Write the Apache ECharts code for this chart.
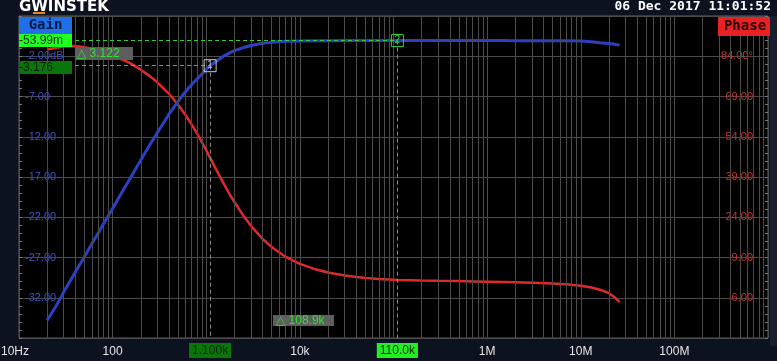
<!DOCTYPE html>
<html><head><meta charset="utf-8">
<script src="https://cdn.jsdelivr.net/npm/echarts@6/dist/echarts.min.js"></script>
<style>html,body{margin:0;padding:0;background:#0d1220;}#c{width:777px;height:361px;}</style>
</head><body><div id="c"></div>
<script>
// ---- data ----
const freqHz = [20,25,30,40,50,60,70,80,100,130,150,200,250,300,400,500,600,700,800,900,1000,1100,1300,1500,1800,2000,2500,3000,4000,5000,7000,10000,15000,20000,30000,50000,70000,100000,110000,150000,200000,300000,500000,700000,1e6,1.5e6,2e6,3e6,5e6,7e6,1e7,1.3e7,1.6e7,2e7,2.3e7,2.6e7];
const gainDb = [-34.8,-33.0,-31.3,-28.8,-26.9,-25.3,-24.0,-22.8,-20.9,-18.6,-17.4,-14.9,-13.0,-11.5,-9.2,-7.6,-6.4,-5.5,-4.8,-4.2,-3.6,-3.18,-2.55,-2.05,-1.55,-1.30,-0.92,-0.67,-0.40,-0.27,-0.15,-0.10,-0.07,-0.06,-0.055,-0.05,-0.05,-0.05,-0.054,-0.05,-0.05,-0.05,-0.05,-0.05,-0.05,-0.05,-0.06,-0.06,-0.08,-0.09,-0.12,-0.2,-0.32,-0.42,-0.52,-0.62];
const phaseDeg = [86.5,87.2,87.6,87.8,87.4,86.8,86.2,85.5,84.3,82.6,81.6,79.0,76.6,74.3,70.0,65.9,62.1,58.5,55.2,51.9,49.0,46.1,41.3,37.2,32.2,29.7,24.5,20.8,15.9,12.9,9.3,6.6,4.5,3.4,2.3,1.4,1.0,0.75,0.6,0.5,0.4,0.3,0.2,0.1,0.0,-0.1,-0.2,-0.4,-0.7,-1.0,-1.5,-2.2,-3.0,-4.3,-5.8,-7.6];
const xTickLabels = {10:'10Hz',100:'100',10000:'10k',1000000:'1M',10000000:'10M',100000000:'100M'};
const gainRange = [-37, 3, 5];
const phaseRange = [-21, 99, 15];
const markerFreq = [1100, 110000];
const markerGain = [-3.176, -0.05399];
const markerFreqText = ['1.100k', '110.0k'];
const markerGainText = ['-3.176', '-53.99m'];
const deltaGainText = '\u25B3 3.122';
const deltaFreqText = '\u25B3 108.9k';
const dateText = '06 Dec 2017 11:01:52';

// minor grid values (2..9 per decade)
const minorGrid = [];
for (let d = 1; d <= 8; d++) for (let k = 2; k <= 9; k++) minorGrid.push(k * Math.pow(10, d));

const FONT = "'Liberation Sans Narrow','Liberation Sans','DejaVu Sans',sans-serif";
const GRID_COLOR = '#4b4b4b';
const chart = echarts.init(document.getElementById('c'), null, {renderer: 'canvas'});

const gainData = freqHz.map((f, i) => [f, gainDb[i]]);
const phaseData = freqHz.map((f, i) => [f, phaseDeg[i]]);

const mColors = ['#c8c8c8', '#33d633'];
const mLabelBg = ['#0a760a', '#22ee22'];

const markerLines = [];
markerFreq.forEach((f, i) => {
  markerLines.push([
    {coord: [10, markerGain[i]], lineStyle: {color: i ? '#2fcf2f' : '#8a8a8a', type: [4, 3], width: 1}, label: {show: false}},
    {coord: [f, markerGain[i]]}
  ]);
  markerLines.push([
    {coord: [f, markerGain[i]], lineStyle: {color: i ? '#2fcf2f' : '#8a8a8a', type: [4, 3], width: 1},
     label: {show: true, position: 'end', distance: 5, formatter: markerFreqText[i], color: '#0a260a',
             backgroundColor: mLabelBg[i], padding: [2, 3, 1, 3], fontSize: 12, fontFamily: FONT}},
    {coord: [f, gainRange[0]]}
  ]);
});

const G = [
  {type: 'text', left: 19, top: 0, style: {text: 'GWINSTEK', fill: '#ffffff', font: 'bold 15px "DejaVu Sans"'}},
  {type: 'rect', shape: {x: 33, y: 12, width: 12, height: 2}, style: {fill: '#e8872a'}},
  {type: 'text', right: 6, top: 0, style: {text: dateText, fill: '#ffffff', font: 'bold 13px "DejaVu Sans Mono"'}},
  {type: 'rect', shape: {x: 19, y: 17, width: 53, height: 17}, style: {fill: '#1f6fe6'}},
  {type: 'text', x: 45.5, y: 25.5, style: {text: 'Gain', fill: '#0a1848', font: 'bold 14px "DejaVu Sans Mono"', align: 'center', verticalAlign: 'middle'}},
  {type: 'rect', shape: {x: 19, y: 34, width: 53, height: 13}, style: {fill: '#22ff22'}},
  {type: 'text', x: 19, y: 40.5, style: {text: markerGainText[1], fill: '#083008', font: '12px ' + FONT, verticalAlign: 'middle'}},
  {type: 'rect', shape: {x: 19, y: 61, width: 53, height: 13}, style: {fill: '#0a760a'}},
  {type: 'text', x: 19, y: 67.5, style: {text: markerGainText[0], fill: '#062006', font: '12px ' + FONT, verticalAlign: 'middle'}},
  {type: 'rect', shape: {x: 75, y: 47, width: 58, height: 13}, style: {fill: '#5e5e5e'}},
  {type: 'text', x: 77, y: 53.5, style: {text: deltaGainText, fill: '#35e035', font: '12px ' + FONT, verticalAlign: 'middle'}},
  {type: 'rect', shape: {x: 718, y: 17, width: 54, height: 19}, style: {fill: '#e62222'}},
  {type: 'text', x: 745, y: 26.5, style: {text: 'Phase', fill: '#2a0404', font: 'bold 14px "DejaVu Sans Mono"', align: 'center', verticalAlign: 'middle'}},
  {type: 'rect', shape: {x: 273, y: 315, width: 61, height: 11}, style: {fill: '#5e5e5e'}},
  {type: 'text', x: 276, y: 320.5, style: {text: deltaFreqText, fill: '#35e035', font: '12px ' + FONT, verticalAlign: 'middle'}},
  {type: 'rect', shape: {x: 770, y: 16, width: 7, height: 330}, style: {fill: '#1a1f30'}}
].map(e => Object.assign({z: 100, silent: true}, e));

const option = {
  backgroundColor: '#0d1220',
  animation: false,
  grid: {left: 19, top: 16, width: 749, height: 322, show: true, containLabel: false, outerBoundsMode: 'none',
         backgroundColor: '#000', borderColor: '#606060', borderWidth: 1},
  xAxis: {
    type: 'log', logBase: 10, min: 10, max: 1e9,
    axisLine: {show: false}, axisTick: {show: false},
    splitLine: {show: true, lineStyle: {color: GRID_COLOR, width: 1}},
    axisLabel: {color: '#e6e6e6', fontSize: 12, fontFamily: FONT, margin: 8,
      formatter: v => { const r = Math.round(v); return r === 10 ? '{l|10Hz}' : (xTickLabels[r] || ''); },
      rich: {l: {color: '#e6e6e6', fontSize: 12, fontFamily: FONT, padding: [0, 8, 0, 0]}}}
  },
  yAxis: [
    {type: 'value', min: gainRange[0], max: gainRange[1], interval: gainRange[2], position: 'left',
     axisLine: {show: false},
     axisTick: {show: true, inside: true, length: 3, lineStyle: {color: '#777'}},
     minorTick: {show: true, splitNumber: 5, length: 3, lineStyle: {color: '#777'}},
     splitLine: {show: true, lineStyle: {color: GRID_COLOR}},
     axisLabel: {inside: true, margin: 6, color: '#3d52c6', fontSize: 11, fontFamily: FONT,
       formatter: v => (v === gainRange[0] || v === gainRange[1]) ? '' : (v === -2 ? '-2.00dB' : v.toFixed(2))}},
    {type: 'value', min: phaseRange[0], max: phaseRange[1], interval: phaseRange[2], position: 'right',
     axisLine: {show: false},
     axisTick: {show: true, inside: true, length: 3, lineStyle: {color: '#777'}},
     minorTick: {show: true, splitNumber: 5, length: 3, lineStyle: {color: '#777'}},
     splitLine: {show: false},
     axisLabel: {inside: true, margin: 15, color: '#cf3030', fontSize: 11, fontFamily: FONT,
       formatter: v => (v === phaseRange[0] || v === phaseRange[1]) ? '' : (v === 84 ? '84.00\u00B0' : v.toFixed(2))}}
  ],
  series: [
    {type: 'line', data: [], z: 1, silent: true,
     markLine: {silent: true, symbol: ['none', 'none'], label: {show: false},
       lineStyle: {color: GRID_COLOR, type: 'solid', width: 1},
       data: minorGrid.map(v => ({xAxis: v}))}},
    {type: 'line', name: 'Phase', yAxisIndex: 1, data: phaseData, showSymbol: false, z: 3,
     lineStyle: {color: '#de2a2a', width: 2.5}},
    {type: 'line', name: 'Gain', yAxisIndex: 0, data: gainData, showSymbol: false, z: 4,
     lineStyle: {color: '#2c41c2', width: 3},
     markLine: {silent: true, symbol: ['none', 'none'], data: markerLines},
     markPoint: {silent: true, symbol: 'rect', symbolSize: 12,
       data: markerFreq.map((f, i) => ({coord: [f, markerGain[i]],
         itemStyle: {color: 'rgba(0,0,0,0)', borderColor: mColors[i], borderWidth: 1},
         label: {show: true, position: 'inside', formatter: String(i + 1), color: mColors[i], fontSize: 10, fontFamily: FONT}}))}}
  ],
  graphic: G
};
chart.setOption(option);
</script>
</body></html>
